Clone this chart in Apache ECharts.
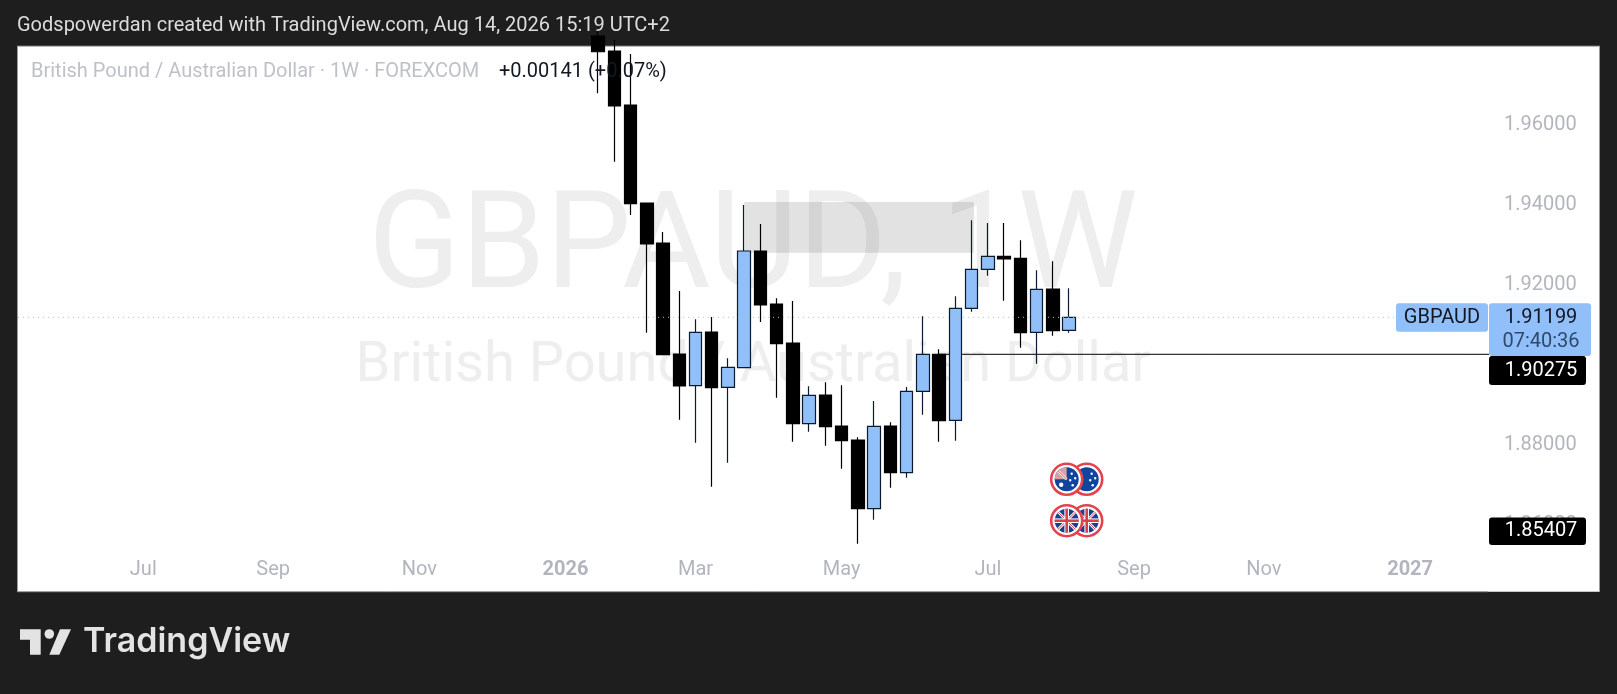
<!DOCTYPE html>
<html>
<head>
<meta charset="utf-8">
<style>html,body{margin:0;padding:0;background:#1e1e1e;overflow:hidden}#chart{width:1617px;height:694px}</style>
<script src="https://cdn.jsdelivr.net/npm/echarts@6/dist/echarts.min.js"></script>
</head>
<body>
<div id="chart"></div>
<script>
const weekStarts = ['2026-01-19','2026-01-26','2026-02-02','2026-02-09','2026-02-16','2026-02-23','2026-03-02','2026-03-09','2026-03-16','2026-03-23','2026-03-30','2026-04-06','2026-04-13','2026-04-20','2026-04-27','2026-05-04','2026-05-11','2026-05-18','2026-05-25','2026-06-01','2026-06-08','2026-06-15','2026-06-22','2026-06-29','2026-07-06','2026-07-13','2026-07-20','2026-07-27','2026-08-03','2026-08-10'];
const opens  = [1.98224,1.97850,1.96501,1.94054,1.93055,1.90282,1.89491,1.90832,1.89451,1.89940,1.92855,1.91531,1.90557,1.88542,1.89258,1.88484,1.88135,1.86419,1.88484,1.87318,1.89351,1.90275,1.88627,1.91424,1.92398,1.92722,1.92673,1.90824,1.91906,1.90874];
const closes = [1.97832,1.96476,1.94036,1.93030,1.90265,1.89483,1.90824,1.89441,1.89950,1.92855,1.91506,1.90540,1.88542,1.89251,1.88467,1.88117,1.86419,1.88477,1.87318,1.89351,1.90275,1.88617,1.91424,1.92398,1.92722,1.92655,1.90814,1.91898,1.90864,1.91199];
const lows   = [1.96793,1.95085,1.93754,1.90814,1.90265,1.88642,1.88067,1.86968,1.87568,1.89940,1.91082,1.89191,1.88092,1.88342,1.87992,1.87418,1.85545,1.86144,1.86943,1.87193,1.88766,1.88092,1.88117,1.91339,1.92238,1.91614,1.90440,1.90040,1.90739,1.90814];
const highs  = [1.98374,1.98125,1.97775,1.94054,1.93329,1.91856,1.91149,1.91206,1.90175,1.94004,1.93529,1.91674,1.91606,1.89476,1.89576,1.89501,1.88202,1.89109,1.88577,1.89458,1.91224,1.90400,1.91723,1.93622,1.93554,1.93554,1.93122,1.92373,1.92598,1.91923];

const timeTicks = ['2025-07-07','2025-09-01','2025-11-03','2026-01-05','2026-03-02','2026-05-04','2026-07-06','2026-09-07','2026-11-02','2027-01-04'];
const timeLabels = ['Jul','Sep','Nov','2026','Mar','May','Jul','Sep','Nov','2027'];
const priceTicks = [1.86,1.88,1.90,1.92,1.94,1.96];

const lastPrice = 1.91199;
const lineLevel = 1.90275;
const zoneTop = 1.94079, zoneBottom = 1.92812;
const zoneStart = '2026-03-23', zoneEnd = '2026-06-30';
const lineStart = '2026-06-15';

const ts = s => { const [y,m,d] = s.split('-').map(Number); return Date.UTC(y,m-1,d); };
const axisMin = ts('2025-05-14'), axisMax = ts('2027-02-07');
const dottedEnd = ts('2026-12-28');
const FONT = 'Roboto';

const candles = weekStarts.map((w,i)=>[ts(w),opens[i],closes[i],lows[i],highs[i]]);
const labelOf = {}; timeTicks.forEach((t,i)=>labelOf[ts(t)] = timeLabels[i]);

function txt(x,y,text,size,fill,align,extra){
  return {type:'text',x,y,z:100,silent:true,style:{text,fill,font:(extra&&extra.weight?extra.weight+' ':'')+size+'px '+(extra&&extra.family||FONT),textAlign:align||'left',textVerticalAlign:'middle'}};
}
function rect(x,y,w,h,fill,r,z){return {type:'rect',z:z===undefined?90:z,silent:true,shape:{x,y,width:w,height:h,r:r||0},style:{fill}};}
function seg(x1,y1,x2,y2,stroke,lw,z){return {type:'line',z,silent:true,shape:{x1,y1,x2,y2},style:{stroke,lineWidth:lw}};}
function ringDisc(cx,cy,color,z){return [
  {type:'circle',z,silent:true,shape:{cx,cy,r:15.5},style:{fill:'#fff',stroke:'#e2434f',lineWidth:2.6}},
  {type:'circle',z:z+0.01,silent:true,shape:{cx,cy,r:12},style:{fill:color}}];}
function jack(cx,cy,r,z){const d=r*0.71,w='#ffffff',red='#d9404a';return [
  seg(cx-d,cy-d,cx+d,cy+d,w,2.6,z),seg(cx-d,cy+d,cx+d,cy-d,w,2.6,z),
  seg(cx-d,cy-d,cx+d,cy+d,red,1,z+0.01),seg(cx-d,cy+d,cx+d,cy-d,red,1,z+0.01),
  seg(cx-r,cy,cx+r,cy,w,4.6,z+0.02),seg(cx,cy-r,cx,cy+r,w,4.6,z+0.02),
  seg(cx-r,cy,cx+r,cy,red,2.6,z+0.03),seg(cx,cy-r,cx,cy+r,red,2.6,z+0.03)];}
function aus(cx,cy,z){
  const e=[...ringDisc(cx,cy,'#0f459c',z)];
  const s=(dx,dy,r)=>({type:'circle',z:z+0.05,silent:true,shape:{cx:cx+dx,cy:cy+dy,r:r},style:{fill:'#fff'}});
  e.push({type:'sector',z:z+0.02,silent:true,shape:{cx,cy,r0:0,r:12,startAngle:Math.PI,endAngle:1.5*Math.PI},style:{fill:'#d9a0a8'}});
  e.push(seg(cx-8,cy-8,cx,cy,'#fff',2.4,z+0.03),seg(cx-8,cy-8,cx,cy,'#d9404a',1,z+0.04));
  e.push(s(-5.5,5.5,2.2),s(5,-5.5,1.2),s(8.5,-1,1.2),s(3.5,1,1.2),s(6,6,1.3));
  return e;
}
function backAus(cx,cy,z){
  const e=[...ringDisc(cx,cy,'#0f459c',z)];
  const s=(dx,dy,r)=>({type:'circle',z:z+0.05,silent:true,shape:{cx:cx+dx,cy:cy+dy,r:r},style:{fill:'#fff'}});
  e.push(s(5,-5.5,1.2),s(8.5,-1,1.2),s(3.5,1,1.2),s(6,6,1.3));
  return e;
}

const graphics = [
  rect(18,46,1581.5,545.7,'#ffffff',0,-10),
  seg(17.5,46,17.5,592,'#9c9c9c',1,-9),
  seg(17,46.2,1600,46.2,'#9c9c9c',1,-9),
  seg(1599.5,46,1599.5,592,'#9c9c9c',1,-9),
  seg(17,591.7,1488,591.7,'#9c9c9c',1,-9),
  {type:'text',x:753,y:253,z:-5,silent:true,style:{text:'GBPAUD, 1W',fill:'#eeeeee',font:'136px '+FONT,textAlign:'center',textVerticalAlign:'middle'}},
  {type:'text',x:753,y:367,z:-5,silent:true,style:{text:'British Pound / Australian Dollar',fill:'#eeeeee',font:'56px '+FONT,textAlign:'center',textVerticalAlign:'middle'}},
  txt(17,26,'Godspowerdan created with TradingView.com, Aug 14, 2026 15:19 UTC+2',20,'#dcdcdc'),
  txt(31,72,'British Pound / Australian Dollar · 1W · FOREXCOM',20,'#bfc1c8'),
  txt(499,72,'+0.00141 (+0.07%)',20,'#131722'),
  rect(1396,303.3,92,28.4,'#90bff9',3),
  rect(1489,303.3,102,52.7,'#90bff9',3),
  rect(1489,356,97,29,'#000000',3),
  rect(1489,517.5,97,27.5,'#000000',3),
  txt(1442,317.5,'GBPAUD',20,'#131722','center'),
  txt(1541,317.5,'1.91199',20,'#131722','center'),
  txt(1541,342,'07:40:36',20,'#2d4a6e','center'),
  txt(1541,370.7,'1.90275',20,'#ffffff','center'),
  txt(1541,531,'1.85407',20,'#ffffff','center'),
  ...backAus(1086.7,479.3,60),
  ...aus(1066.7,479.3,61),
  ...ringDisc(1086.7,520.7,'#1a3f8f',60),
  ...jack(1086.7,520.7,12,60.1),
  ...ringDisc(1066.7,520.7,'#1a3f8f',61),
  ...jack(1066.7,520.7,12,61.1),
  {type:'polygon',silent:true,z:100,shape:{points:[[20,629.3],[40.7,629.3],[40.7,654.7],[30,654.7],[30,639.7],[20,639.7]]},style:{fill:'#e3e3e3'}},
  {type:'circle',silent:true,z:100,shape:{cx:49.3,cy:634,r:4.8},style:{fill:'#e3e3e3'}},
  {type:'polygon',silent:true,z:100,shape:{points:[[60,629.3],[71,629.3],[59.3,654.7],[49.3,654.7]]},style:{fill:'#e3e3e3'}},
  txt(83,642,'TradingView',34,'#e3e3e3','left',{weight:600,family:'Inter'})
];

const option = {
  animation:false,
  backgroundColor:'#1e1e1e',
  grid:{left:18,top:46,width:1471,height:545.7,containLabel:false},
  xAxis:{type:'value',min:axisMin,max:axisMax,scale:true,
    axisLine:{show:false},axisTick:{show:false},splitLine:{show:false},
    axisLabel:{inside:true,margin:12,customValues:timeTicks.map(ts),hideOverlap:false,
      color:'#b2b5be',fontFamily:FONT,fontSize:20,
      formatter:v=>{const t=labelOf[v]; if(!t) return ''; return /^\d+$/.test(t)?'{b|'+t+'}':t;},
      rich:{b:{fontWeight:'bold',color:'#b2b5be',fontFamily:FONT,fontSize:20}}}},
  yAxis:{type:'value',position:'right',min:1.84346,max:1.97975,scale:true,
    axisLine:{show:false},axisTick:{show:false},splitLine:{show:false},
    axisLabel:{customValues:priceTicks,margin:15,color:'#b2b5be',fontFamily:FONT,fontSize:20,formatter:v=>v.toFixed(5)}},
  graphic:{elements:graphics},
  series:[
    {type:'line',z:1,silent:true,showSymbol:false,symbol:'none',data:[[ts(lineStart),lineLevel],[axisMax,lineLevel]],lineStyle:{color:'#000',width:1}},
    {type:'candlestick',z:2,barWidth:13,data:candles,encode:{x:0,y:[1,2,3,4]},
      itemStyle:{color:'#90bff9',color0:'#000000',borderColor:'#0c1a2e',borderColor0:'#000000',borderWidth:1.2},
      markArea:{silent:true,itemStyle:{color:'rgba(110,110,110,0.2)'},data:[[{coord:[ts(zoneStart),zoneTop]},{coord:[ts(zoneEnd),zoneBottom]}]]}},
    {type:'line',z:3,silent:true,showSymbol:false,symbol:'none',data:[[axisMin,lastPrice],[dottedEnd,lastPrice]],lineStyle:{color:'#a9c6c2',width:1,type:[1,4]}}
  ]
};
const chart = echarts.init(document.getElementById('chart'),null,{renderer:'canvas',width:1617,height:694});
chart.setOption(option);
</script>
</body>
</html>
